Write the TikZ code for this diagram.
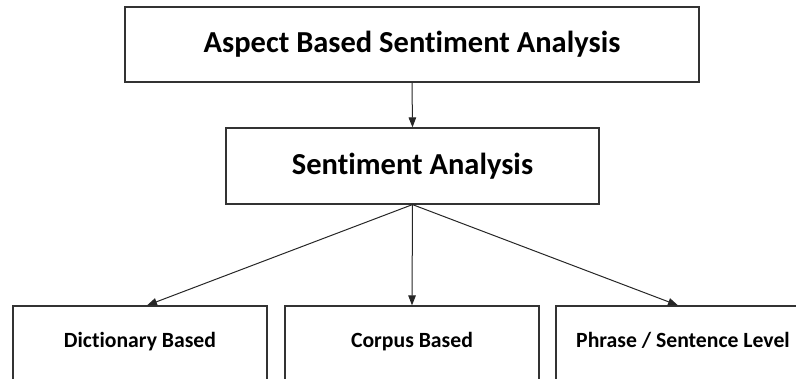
\documentclass[tikz,border=0pt]{standalone}
\usepackage{fontspec}
\setmainfont[Ligatures=NoCommon]{Carlito}
\usetikzlibrary{arrows.meta}

\tikzset{
  box/.style={draw=black!80, line width=1.2pt, fill=white, inner sep=0pt,
              font=\bfseries},
  bigbox/.style={box, font=\fontsize{30.5}{34}\selectfont\bfseries},
  leafbox/.style={box, minimum width=254pt, minimum height=74pt,
                  text height=14pt, text depth=4pt,
                  font=\fontsize{21.7}{25}\selectfont\bfseries},
  link/.style={draw=black!85, line width=1pt,
               -{Triangle[length=10pt,width=7.5pt]}}
}

\begin{document}
\begin{tikzpicture}[x=1pt,y=-1pt]
  \useasboundingbox (0,0) rectangle (796,379);

  % hierarchy: approach -> method -> technique levels
  \node[bigbox, minimum width=574pt, minimum height=75pt] (absa) at (412,44.5)
    {Aspect Based Sentiment Analysis};
  \node[bigbox, minimum width=373pt, minimum height=76pt] (sa) at (412.5,166)
    {Sentiment Analysis};

  \node[leafbox] (dict) at (140,343) {Dictionary Based};
  \node[leafbox] (corp) at (412,343) {Corpus Based};
  \node[leafbox] (phr)  at (683,343) {Phrase / Sentence Level};

  % connectors
  \draw[link] (absa.south) -- (sa.north);
  \draw[link] (sa.south) -- ([xshift=7pt]dict.north);
  \draw[link] (sa.south) -- (corp.north);
  \draw[link] (sa.south) -- ([xshift=-5pt]phr.north);
\end{tikzpicture}
\end{document}
